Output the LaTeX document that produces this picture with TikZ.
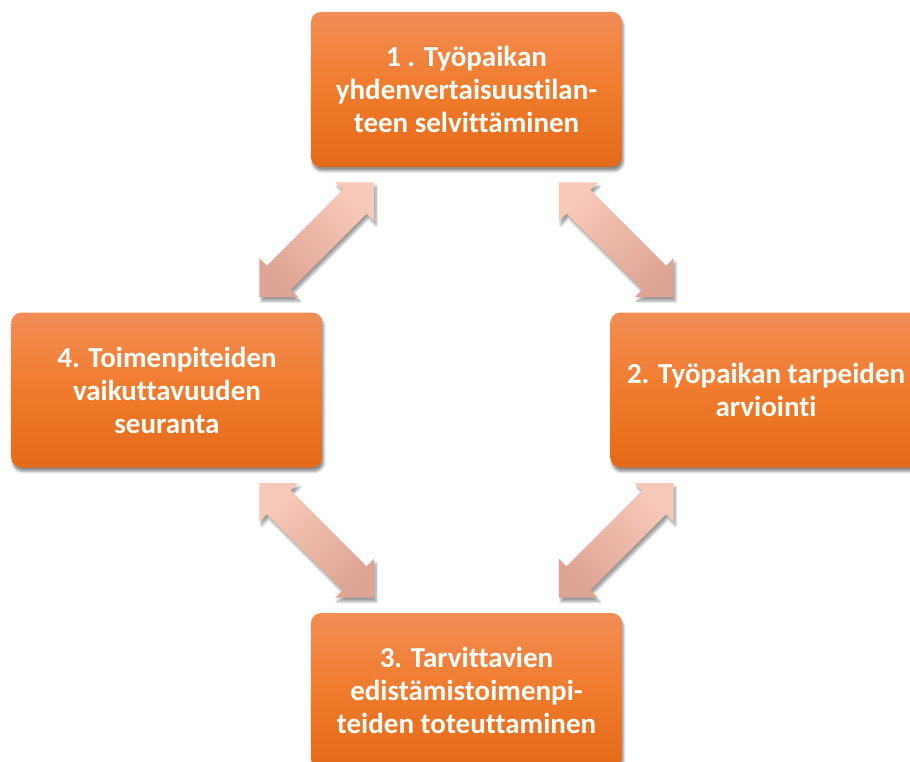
\documentclass[tikz,border=0pt]{standalone}
\usepackage{fontspec}
\setmainfont{Carlito}[Ligatures=CommonOff]
\usetikzlibrary{positioning, shapes.arrows, shadows.blur, calc}

\definecolor{boxTop}{RGB}{242,141,86}
\definecolor{boxMid}{RGB}{241,123,44}
\definecolor{boxBot}{RGB}{227,106,24}
\definecolor{arrTop}{RGB}{248,201,184}
\definecolor{arrBot}{RGB}{222,164,148}

\begin{document}
\begin{tikzpicture}[x=0.75pt, y=-0.75pt,
    phase/.style={rectangle, rounded corners=7.5pt, minimum width=233.25pt, minimum height=116.25pt,
      top color=boxTop, bottom color=boxBot, middle color=boxMid, text=white, align=center,
      font=\bfseries\fontsize{21.75}{24.75}\selectfont,
      blur shadow={shadow xshift=1pt, shadow yshift=-3pt, shadow opacity=45, shadow blur steps=6}},
    twoway/.style={double arrow, double arrow tip angle=90, double arrow head extend=7.9pt,
      minimum height=121.5pt, inner xsep=0pt, inner ysep=12.4pt, rotate=#1,
      top color=arrTop, bottom color=arrBot, shading angle=-#1,
      blur shadow={shadow xshift=1.5pt, shadow yshift=-3pt, shadow opacity=40, shadow blur steps=6}}]
    \useasboundingbox (0,0) rectangle (910,762);
    % the four phases of the cycle
    \node[phase] (tilanne) at (466.5,89.5) {1 . Työpaikan\\yhdenvertaisuustilan-\\teen selvittäminen};
    \node[phase] (seuranta) [below left = 108.75pt and -9pt of tilanne] {4. Toimenpiteiden\\vaikuttavuuden\\seuranta};
    \node[phase] (arviointi) [below right = 108.75pt and -9pt of tilanne] {2. Työpaikan tarpeiden\\arviointi};
    \node[phase] (toteutus) [below right = 108.75pt and -9pt of seuranta] {3. Tarvittavien\\edistämistoimenpi-\\teiden toteuttaminen};

    % two-way arrows between neighbours
    \node[twoway=45] (t-s) at ($(tilanne.south west)!0.5!(seuranta.north east)$) {};
    \node[twoway=-45] (t-a) at ($(tilanne.south east)!0.5!(arviointi.north west)$) {};
    \node[twoway=-45] (s-t) at ($(seuranta.south east)!0.5!(toteutus.north west)$) {};
    \node[twoway=45] (a-t) at ($(arviointi.south west)!0.5!(toteutus.north east)$) {};
\end{tikzpicture}
\end{document}
